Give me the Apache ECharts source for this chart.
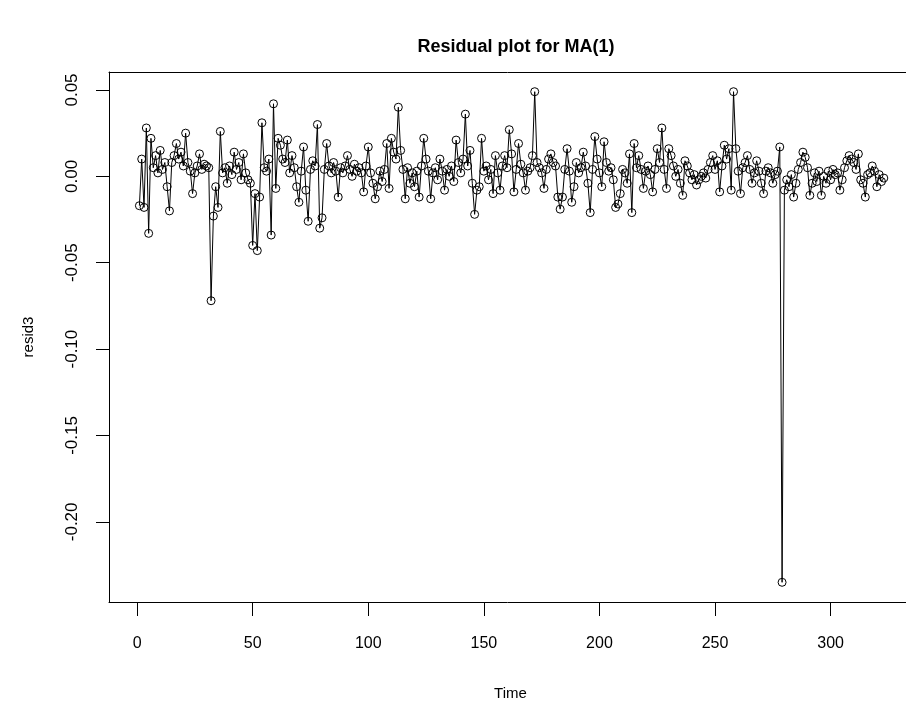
<!DOCTYPE html>
<html>
<head>
<meta charset="utf-8">
<script src="https://cdn.jsdelivr.net/npm/echarts@6/dist/echarts.min.js"></script>
<style>
html,body{margin:0;padding:0;background:#fff;}
#chart{width:906px;height:708px;}
</style>
</head>
<body>
<div id="chart"></div>
<script>
const titleText = "Residual plot for MA(1)";
const xName = "Time";
const yName = "resid3";
const xTicks = [0, 50, 100, 150, 200, 250, 300];
const yTicks = [-0.20, -0.15, -0.10, -0.05, 0.00, 0.05];
const resid3 = [
 -0.017, 0.010, -0.018, 0.028, -0.033, 0.022, 0.005, 0.012, 0.002, 0.015,
 0.004, 0.008, -0.006, -0.020, 0.008, 0.012, 0.019, 0.010, 0.014, 0.006,
 0.025, 0.008, 0.003, -0.010, 0.002, 0.006, 0.013, 0.004, 0.007, 0.006,
 0.005, -0.072, -0.023, -0.006, -0.018, 0.026, 0.002, 0.005, -0.004, 0.006,
 0.001, 0.014, 0.004, 0.008, -0.002, 0.013, 0.002, -0.002, -0.004, -0.040,
 -0.010, -0.043, -0.012, 0.031, 0.005, 0.003, 0.010, -0.034, 0.042, -0.007,
 0.022, 0.018, 0.010, 0.008, 0.021, 0.002, 0.012, 0.005, -0.006, -0.015,
 0.003, 0.017, -0.008, -0.026, 0.004, 0.009, 0.006, 0.030, -0.030, -0.024,
 0.004, 0.019, 0.006, 0.002, 0.008, 0.003, -0.012, 0.005, 0.002, 0.006,
 0.012, 0.004, 0.000, 0.007, 0.003, 0.005, 0.002, -0.009, 0.006, 0.017,
 0.002, -0.004, -0.013, -0.006, 0.003, -0.003, 0.004, 0.019, -0.007, 0.022,
 0.014, 0.010, 0.040, 0.015, 0.004, -0.013, 0.005, -0.004, 0.002, -0.006,
 0.003, -0.012, 0.006, 0.022, 0.010, 0.003, -0.013, 0.002, 0.005, -0.002,
 0.010, 0.003, -0.008, 0.004, 0.000, 0.006, -0.003, 0.021, 0.008, 0.002,
 0.010, 0.036, 0.006, 0.015, -0.004, -0.022, -0.008, -0.006, 0.022, 0.003,
 0.006, -0.002, 0.004, -0.010, 0.012, 0.002, -0.008, 0.006, 0.012, 0.005,
 0.027, 0.013, -0.009, 0.004, 0.019, 0.007, 0.002, -0.008, 0.003, 0.005,
 0.012, 0.049, 0.008, 0.005, 0.002, -0.007, 0.004, 0.010, 0.013, 0.008,
 0.006, -0.012, -0.019, -0.012, 0.004, 0.016, 0.003, -0.015, -0.006, 0.008,
 0.002, 0.005, 0.014, 0.006, -0.004, -0.021, 0.004, 0.023, 0.010, 0.002,
 -0.006, 0.020, 0.008, 0.003, 0.005, -0.002, -0.018, -0.016, -0.010, 0.004,
 0.002, -0.004, 0.013, -0.021, 0.019, 0.005, 0.012, 0.004, -0.007, 0.003,
 0.006, 0.001, -0.009, 0.004, 0.016, 0.008, 0.028, 0.004, -0.007, 0.016,
 0.012, 0.006, 0.000, 0.004, -0.004, -0.011, 0.009, 0.006, 0.002, -0.002,
 0.001, -0.005, -0.002, 0.000, 0.002, -0.001, 0.004, 0.008, 0.012, 0.004,
 0.009, -0.009, 0.006, 0.018, 0.010, 0.016, -0.008, 0.049, 0.016, 0.003,
 -0.010, 0.005, 0.008, 0.012, 0.004, -0.004, 0.002, 0.009, 0.003, -0.004,
 -0.010, 0.003, 0.005, 0.002, -0.004, 0.001, 0.003, 0.017, -0.235, -0.008,
 -0.002, -0.006, 0.001, -0.012, -0.004, 0.004, 0.008, 0.014, 0.011, 0.005,
 -0.011, -0.004, 0.002, -0.003, 0.003, -0.011, 0.000, -0.004, 0.003, -0.002,
 0.004, 0.001, 0.002, -0.008, -0.002, 0.005, 0.009, 0.012, 0.010, 0.008,
 0.004, 0.013, -0.002, -0.004, -0.012, 0.001, 0.002, 0.006, 0.003, -0.006,
 0.001, -0.003, -0.001
];
const timeIdx = resid3.map((_, i) => i + 1);
const points = resid3.map((v, i) => [timeIdx[i], v]);

const FONT = "Liberation Sans, Arial, sans-serif";
const X_MIN = -12.15, X_MAX = 332.6;
const chart = echarts.init(document.getElementById('chart'), null, {renderer: 'canvas'});
chart.setOption({
  animation: false,
  backgroundColor: '#ffffff',
  title: {
    text: titleText, left: 511, top: 33, textAlign: 'center',
    textStyle: {fontFamily: FONT, fontSize: 18, fontWeight: 'bold', color: '#000'}
  },
  grid: {
    left: 109, top: 72, right: 0, bottom: 106, show: false
  },
  xAxis: [{
    type: 'value', min: X_MIN, max: X_MAX, position: 'bottom',
    name: xName, nameLocation: 'middle', nameGap: 84,
    nameTextStyle: {fontFamily: FONT, fontSize: 15, color: '#000', padding: [0, 0, 0, 6]},
    axisLine: {show: true, onZero: false, lineStyle: {color: '#000', width: 1}},
    splitLine: {show: false},
    axisTick: {show: true, inside: false, length: 14, customValues: xTicks, lineStyle: {color: '#000', width: 1}},
    axisLabel: {customValues: xTicks, margin: 34, fontFamily: FONT, fontSize: 16, color: '#000',
      formatter: v => String(v)}
  }, {
    type: 'value', min: X_MIN, max: X_MAX, position: 'top',
    axisLine: {show: true, onZero: false, lineStyle: {color: '#000', width: 1}},
    splitLine: {show: false}, axisTick: {show: false}, axisLabel: {show: false}
  }],
  yAxis: {
    type: 'value', min: -0.2464, max: 0.0604,
    name: yName, nameLocation: 'middle', nameGap: 73, nameRotate: 90,
    nameTextStyle: {fontFamily: FONT, fontSize: 15, color: '#000'},
    axisLine: {show: true, onZero: false, lineStyle: {color: '#000', width: 1}},
    splitLine: {show: false},
    axisTick: {show: true, inside: false, length: 13, customValues: yTicks, lineStyle: {color: '#000', width: 1}},
    axisLabel: {customValues: yTicks, rotate: 90, margin: 28, fontFamily: FONT, fontSize: 17, color: '#000',
      formatter: v => v.toFixed(2)}
  },
  series: [{
    type: 'line',
    xAxisIndex: 0,
    data: points,
    symbol: 'circle',
    symbolSize: 8,
    showAllSymbol: true,
    lineStyle: {color: '#000', width: 1},
    itemStyle: {color: 'rgba(0,0,0,0)', borderColor: '#000', borderWidth: 1},
    emphasis: {disabled: true}
  }]
});
</script>
</body>
</html>
